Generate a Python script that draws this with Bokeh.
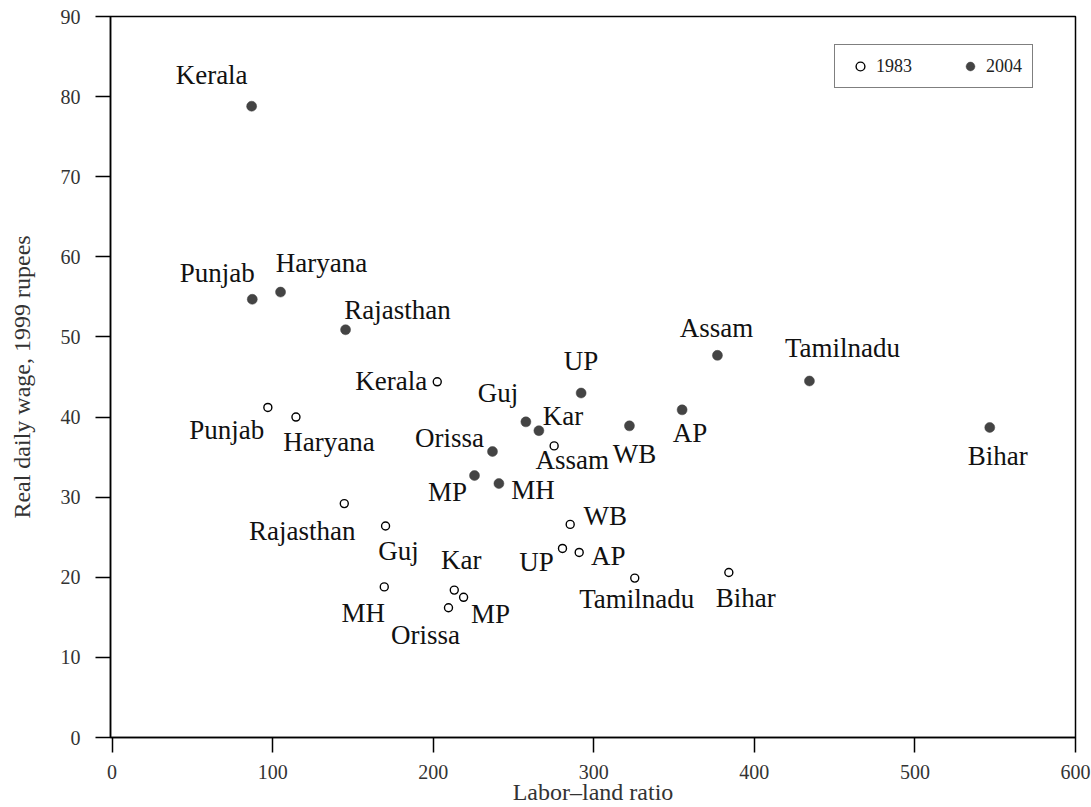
from bokeh.plotting import figure
from bokeh.models import ColumnDataSource, Range1d, FixedTicker, Legend, LegendItem
from bokeh.core.properties import value
from bokeh.embed import file_html
from bokeh.resources import INLINE

# ---- data ----
states = ["Kerala", "Punjab", "Haryana", "Rajasthan", "Guj", "Kar", "MH", "MP",
          "Orissa", "UP", "AP", "WB", "Tamilnadu", "Bihar", "Assam"]
ratio_1983 = [202.5, 97.0, 114.5, 144.6, 170.3, 213.1, 169.5, 218.9,
              209.5, 280.5, 290.9, 285.3, 325.5, 384.1, 275.3]
wage_1983 = [44.4, 41.2, 40.0, 29.2, 26.4, 18.4, 18.8, 17.5,
             16.2, 23.6, 23.1, 26.6, 19.9, 20.6, 36.4]
ratio_2004 = [86.9, 87.3, 104.9, 145.4, 257.7, 265.8, 240.9, 225.7,
              236.9, 292.1, 355.0, 322.2, 434.3, 546.6, 377.0]
wage_2004 = [78.8, 54.7, 55.6, 50.9, 39.4, 38.3, 31.7, 32.7,
             35.7, 43.0, 40.9, 38.9, 44.5, 38.7, 47.7]
x_ticks = [0, 100, 200, 300, 400, 500, 600]
y_ticks = [0, 10, 20, 30, 40, 50, 60, 70, 80, 90]

# ---- label placement (screen px offsets from each point) ----
off_1983 = {"Kerala": (-46, -1), "Punjab": (-41, 23), "Haryana": (33, 25),
            "Rajasthan": (-42, 27), "Guj": (13, 25), "Kar": (7, -30),
            "MH": (-21, 26), "MP": (27, 17), "Orissa": (-23, 27),
            "UP": (-26, 14), "AP": (29, 4), "WB": (35, -8),
            "Tamilnadu": (2, 21), "Bihar": (17, 26), "Assam": (18, 14)}
off_2004 = {"Kerala": (-40, -31), "Punjab": (-35, -26), "Haryana": (41, -29),
            "Rajasthan": (52, -20), "Guj": (-28, -29), "Kar": (24, -15),
            "MH": (34, 6), "MP": (-27, 16), "Orissa": (-43, -14),
            "UP": (0, -32), "AP": (8, 23), "WB": (5, 28),
            "Tamilnadu": (33, -33), "Bihar": (8, 29), "Assam": (-1, -27)}

SERIF = "Liberation Serif"

src83 = ColumnDataSource(dict(x=ratio_1983, y=wage_1983, name=states,
                              dx=[off_1983[s][0] for s in states],
                              dy=[off_1983[s][1] for s in states]))
src04 = ColumnDataSource(dict(x=ratio_2004, y=wage_2004, name=states,
                              dx=[off_2004[s][0] for s in states],
                              dy=[off_2004[s][1] for s in states]))

p = figure(width=1091, height=807, output_backend="svg", toolbar_location=None,
           x_range=Range1d(-1, 600), y_range=Range1d(0, 90),
           min_border_left=110, min_border_right=16, min_border_top=16,
           min_border_bottom=69)

p.background_fill_color = "white"
p.border_fill_color = "white"
p.outline_line_color = "black"
p.outline_line_width = 1.5
p.xgrid.visible = False
p.ygrid.visible = False

for ax in (p.xaxis[0], p.yaxis[0]):
    ax.axis_line_color = "black"
    ax.axis_line_width = 1.5
    ax.major_tick_line_color = "black"
    ax.major_tick_line_width = 1.5
    ax.major_tick_out = 15
    ax.major_tick_in = 0
    ax.minor_tick_line_color = None
    ax.major_label_text_font = SERIF
    ax.major_label_text_font_size = "20px"
    ax.major_label_text_color = "#333333"
    ax.axis_label_text_font = SERIF
    ax.axis_label_text_font_size = "24px"
    ax.axis_label_text_font_style = "normal"
    ax.axis_label_text_color = "#333333"

p.xaxis.ticker = FixedTicker(ticks=x_ticks)
p.yaxis.ticker = FixedTicker(ticks=y_ticks)
p.xaxis.axis_label = "Labor–land ratio"
p.yaxis.axis_label = "Real daily wage, 1999 rupees"
p.xaxis.major_label_standoff = 12
p.xaxis.axis_label_standoff = -3
p.yaxis.major_label_standoff = 15
p.yaxis.axis_label_standoff = 23

r83 = p.scatter("x", "y", source=src83, marker="circle", size=8,
                fill_color="white", line_color="black", line_width=1.4)
r04 = p.scatter("x", "y", source=src04, marker="circle", size=10,
                fill_color="#444444", line_color="#444444", line_width=0.5)

for s in (src83, src04):
    p.text("x", "y", text="name", source=s, x_offset="dx", y_offset="dy",
           text_align="center", text_baseline="middle",
           text_font=value(SERIF), text_font_size="27px", text_color="#111111")

legend = Legend(items=[LegendItem(label="1983", renderers=[r83]),
                       LegendItem(label="2004", renderers=[r04])],
                orientation="horizontal", location=(724, 649),
                padding=10, spacing=43, glyph_width=30, glyph_height=22,
                label_standoff=1, margin=0,
                label_text_font=SERIF, label_text_font_size="18px",
                label_text_color="#222222",
                border_line_color="black", border_line_width=1.5,
                background_fill_color="white", background_fill_alpha=1.0)
p.add_layout(legend, "center")

open("out.html", "w").write(file_html(p, INLINE))
